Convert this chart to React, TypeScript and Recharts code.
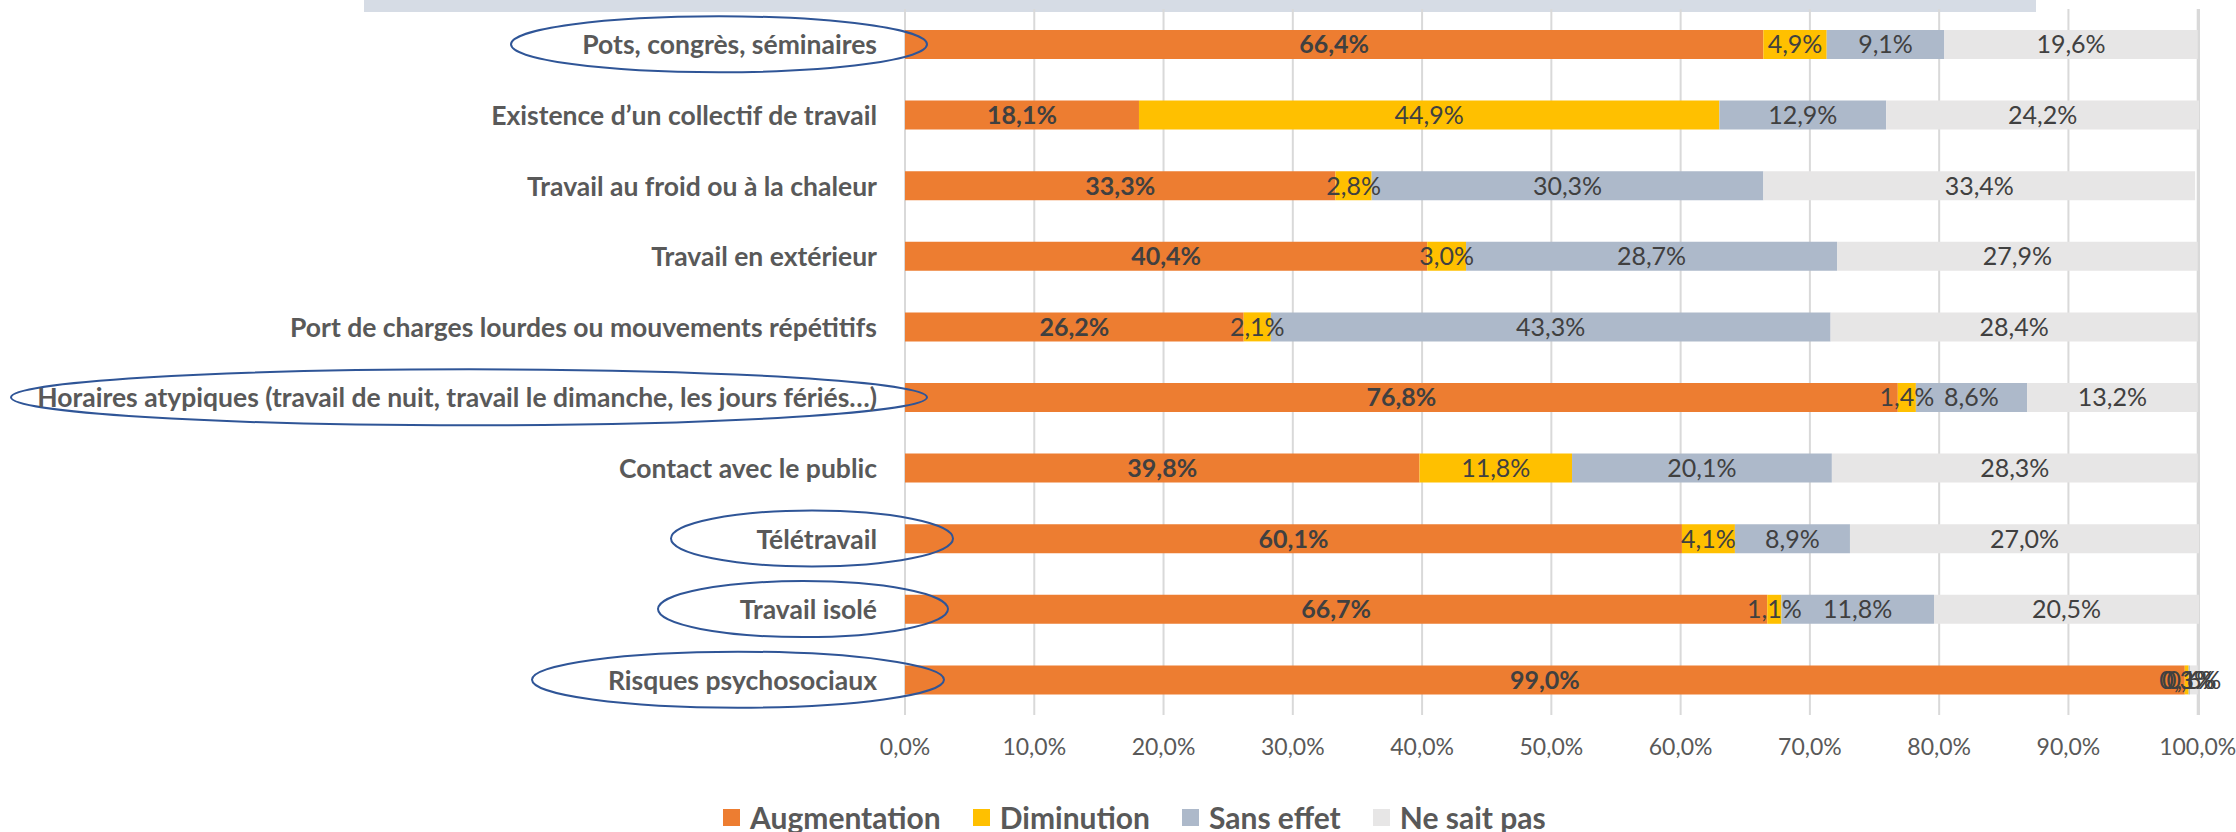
import React from "react";
import { BarChart, Bar, XAxis, YAxis, CartesianGrid, LabelList } from "recharts";

// categories, top to bottom
const CATEGORIES = [
  "Pots, congrès, séminaires",
  "Existence d’un collectif de travail",
  "Travail au froid ou à la chaleur",
  "Travail en extérieur",
  "Port de charges lourdes ou mouvements répétitifs",
  "Horaires atypiques (travail de nuit, travail le dimanche, les jours fériés…)",
  "Contact avec le public",
  "Télétravail",
  "Travail isolé",
  "Risques psychosociaux",
];

const AUGMENTATION = [66.4, 18.1, 33.3, 40.4, 26.2, 76.8, 39.8, 60.1, 66.7, 99.0];
const DIMINUTION = [4.9, 44.9, 2.8, 3.0, 2.1, 1.4, 11.8, 4.1, 1.1, 0.3];
const SANS_EFFET = [9.1, 12.9, 30.3, 28.7, 43.3, 8.6, 20.1, 8.9, 11.8, 0.1];
const NE_SAIT_PAS = [19.6, 24.2, 33.4, 27.9, 28.4, 13.2, 28.3, 27.0, 20.5, 0.6];

const X_TICKS = [0, 10, 20, 30, 40, 50, 60, 70, 80, 90, 100];

// circled labels: [half width, offset of right edge past the axis]
const CIRCLED: Record<string, [number, number]> = {
  "Pots, congrès, séminaires": [208, 22],
  "Horaires atypiques (travail de nuit, travail le dimanche, les jours fériés…)": [458, 22],
  "Télétravail": [141, 48],
  "Travail isolé": [145, 43],
  "Risques psychosociaux": [206, 39],
};

const SERIES = [
  { key: "aug", name: "Augmentation", color: "#ED7D31", bold: true },
  { key: "dim", name: "Diminution", color: "#FFC000", bold: false },
  { key: "sans", name: "Sans effet", color: "#ADB9CA", bold: false },
  { key: "nsp", name: "Ne sait pas", color: "#E7E6E6", bold: false },
];

const data = CATEGORIES.map((c, i) => ({
  cat: c,
  aug: AUGMENTATION[i],
  dim: DIMINUTION[i],
  sans: SANS_EFFET[i],
  nsp: NE_SAIT_PAS[i],
}));

const FONT = "Lato, 'Open Sans', sans-serif";
const pct = (v: any) => `${Number(v).toFixed(1).replace(".", ",")}%`;

const W = 2236;
const H = 832;
const AXIS_W = 905;

function CatTick(props: any) {
  const { y, payload } = props;
  const label = payload.value as string;
  const circ = CIRCLED[label];
  return (
    <g>
      {circ ? (
        <ellipse
          cx={AXIS_W + circ[1] - circ[0]}
          cy={y}
          rx={circ[0]}
          ry={28}
          fill="none"
          stroke="#2F5597"
          strokeWidth={2}
        />
      ) : null}
      <text
        x={AXIS_W - 28}
        y={y}
        textAnchor="end"
        dominantBaseline="central"
        fill="#595959"
        fontSize={26.5}
        fontWeight="bold"
        fontFamily={FONT}
      >
        {label}
      </text>
    </g>
  );
}

export default function App() {
  return (
    <div style={{ position: "absolute", left: 0, top: 0, width: W, height: H, background: "#fff", fontFamily: FONT }}>
      <div style={{ position: "absolute", left: 364, top: 0, width: 1672, height: 12, background: "#D6DCE5" }} />
      <BarChart
        width={W}
        height={H}
        data={data}
        layout="vertical"
        barSize={29}
        margin={{ top: 9, right: 37, bottom: 77, left: 0 }}
      >
        <CartesianGrid horizontal={false} stroke="#D9D9D9" strokeWidth={2} />
        <XAxis
          type="number"
          domain={[0, 100]}
          ticks={X_TICKS}
          tickFormatter={pct}
          axisLine={false}
          tickLine={false}
          tickMargin={18}
          height={40}
          tick={{ fill: "#595959", fontSize: 23, fontFamily: FONT }}
          interval={0}
        />
        <YAxis
          type="category"
          dataKey="cat"
          width={AXIS_W}
          axisLine={false}
          tickLine={false}
          tick={<CatTick />}
          interval={0}
        />
        {SERIES.map((s) => (
          <Bar key={s.key} dataKey={s.key} name={s.name} stackId="a" fill={s.color} isAnimationActive={false}>
            <LabelList
              dataKey={s.key}
              position="center"
              formatter={pct}
              fill="#404040"
              fontSize={25}
              fontWeight={s.bold ? "bold" : "normal"}
              fontFamily={FONT}
            />
          </Bar>
        ))}
      </BarChart>
      <div
        style={{
          position: "absolute",
          left: 723,
          top: 801,
          display: "flex",
          alignItems: "center",
          color: "#595959",
          fontWeight: "bold",
          fontSize: 30,
          lineHeight: "32px",
        }}
      >
        {SERIES.map((s) => (
          <div key={s.key} style={{ display: "flex", alignItems: "center", marginRight: 32 }}>
            <span style={{ display: "inline-block", width: 17, height: 17, background: s.color, marginRight: 10 }} />
            <span>{s.name}</span>
          </div>
        ))}
      </div>
    </div>
  );
}
